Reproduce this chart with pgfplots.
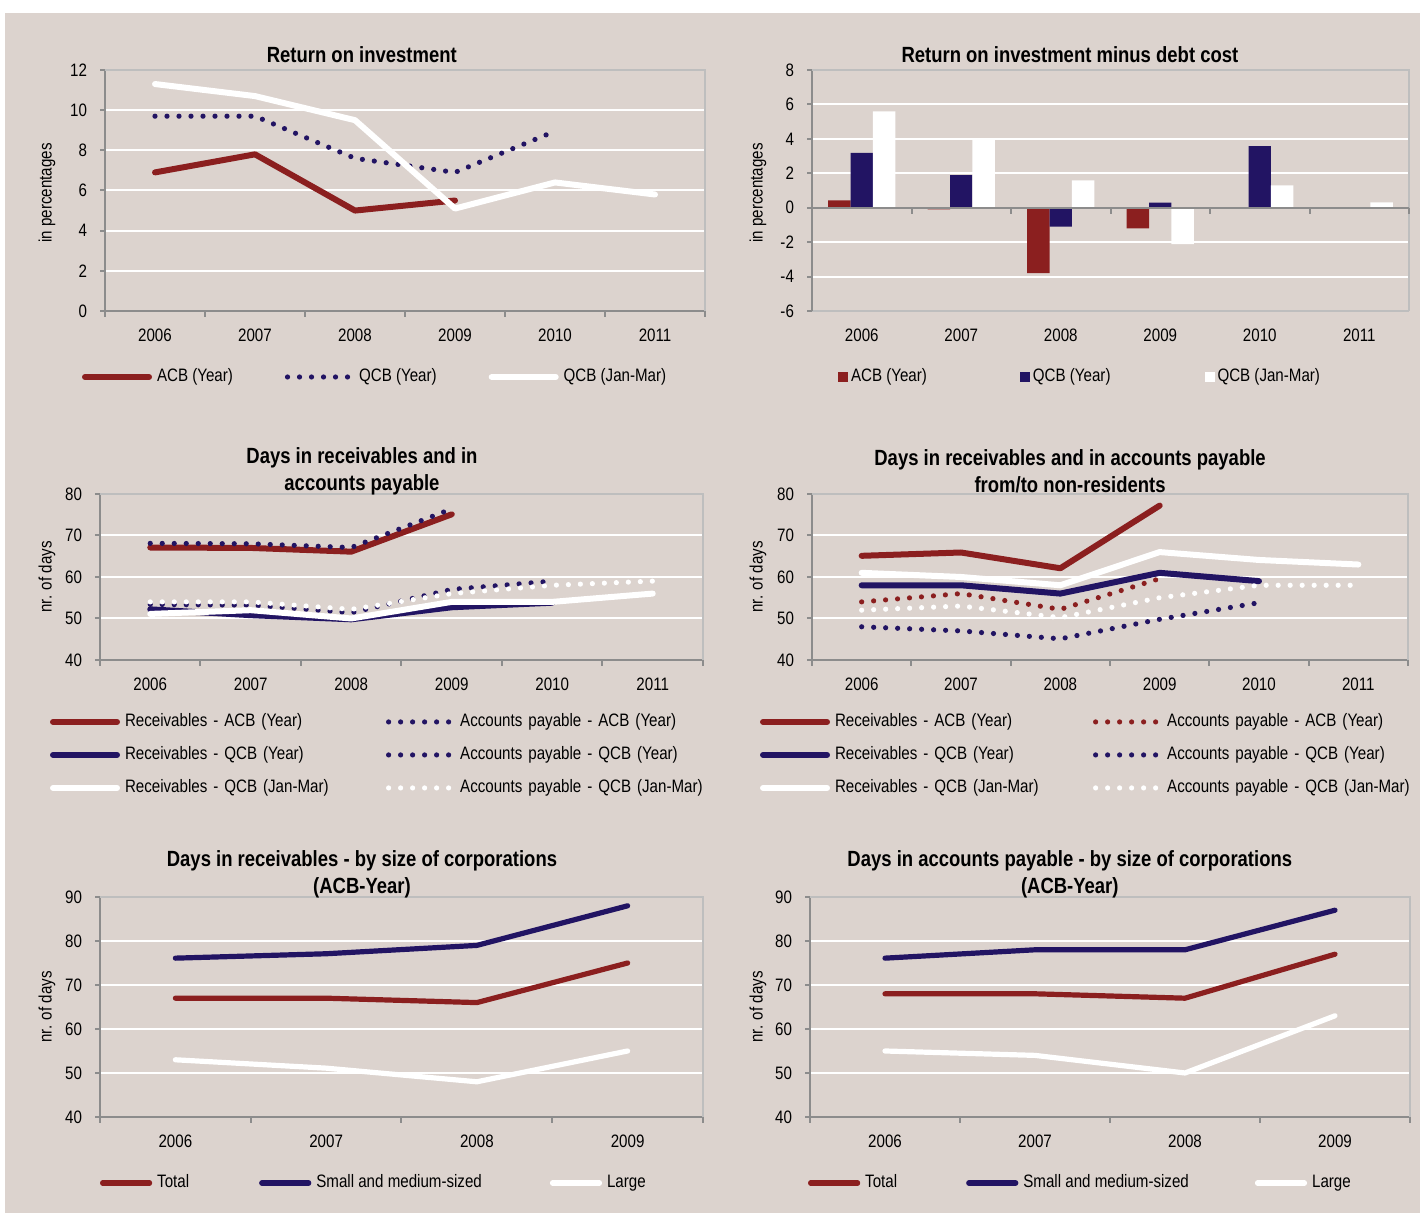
\documentclass[border=0pt]{standalone}
\usepackage{fontspec}
\setmainfont{Liberation Sans}[FakeStretch=0.84]
\usepackage{pgfplots}
\pgfplotsset{compat=1.18}
\definecolor{bg}{HTML}{DCD3CE}
\definecolor{acb}{HTML}{8B1F1F}
\definecolor{qcb}{HTML}{221463}
\definecolor{axgray}{HTML}{8C8C8C}
\definecolor{boxgray}{HTML}{BEBEBE}
\pgfplotsset{
  linelegend/.style={legend image code/.code={\draw[##1] (0pt,0pt) -- (#1,0pt);}},
  sqlegend/.style={legend image code/.code={\fill[##1] (0pt,-2.5pt) rectangle (5pt,2.5pt);}},
  solidl/.style={#1, line width=3pt, line join=round, line cap=round},
  dotl/.style={#1, line width=2.6pt, line cap=round, dash pattern=on 0pt off 6pt},
  panel/.style={
    scale only axis, anchor=south west, clip=false,
    axis lines*=left,
    axis line style={axgray, line width=1pt},
    tick style={axgray, line width=1pt},
    major tick length=2.5pt, minor tick length=3pt,
    tick align=outside,
    ymajorgrids, grid style={white, line width=1pt},
    major x tick style={draw=none},
    font=\fontsize{9}{10.8}\selectfont,
    tick label style={font=\fontsize{9}{10.8}\selectfont},
    /pgf/number format/assume math mode=true,
    yticklabel style={xshift=-3pt},
    xticklabel style={yshift=-3pt},
    title style={font=\fontsize{11}{13.5}\selectfont\bfseries, align=center, anchor=center, yshift=-6pt},
    ylabel style={anchor=center, font=\fontsize{9}{10.8}\selectfont},
    legend cell align=left,
    linelegend=32pt,
    legend style={draw=none, fill=none, inner sep=0pt, outer sep=0pt, anchor=west,
      font=\fontsize{9}{10.8}\selectfont,
      nodes={inner sep=0pt, text height=7pt, text depth=2pt},
      /tikz/every odd column/.append style={column sep=2.5pt}},
  }
}
\begin{document}
\begin{tikzpicture}
\useasboundingbox (0,0) rectangle (710pt,606.5pt);
\fill[white] (0,0) rectangle (710pt,606.5pt);
\fill[bg] (2.5pt,0) rectangle (710pt,600pt);

% Panel 1
\begin{axis}[panel, at={(52.5pt,451pt)}, width=300pt, height=120.5pt,
  xmin=-0.5, xmax=5.5, ymin=0, ymax=12, ytick={0,2,...,12},
  xtick={0,...,5}, xticklabels={2006,2007,2008,2009,2010,2011},
  minor xtick={-0.5,0.5,...,5.5},
  title={Return on investment}, title style={at={(axis description cs:0.428,1.062)}},
  ylabel={in percentages}, ylabel style={at={(axis description cs:-0.0967,0.49)}},
  legend columns=3,
  legend style={at={(axis description cs:-0.0383,-0.2739)},
    /tikz/column 2/.style={column sep=26pt}, /tikz/column 4/.style={column sep=26pt}},
]
\draw[boxgray, line width=1pt] (rel axis cs:0,1) -- (rel axis cs:1,1) -- (rel axis cs:1,0);
\addplot[solidl=acb] coordinates {(0,6.9) (1,7.8) (2,5.0) (3,5.5)};
\addlegendentry{ACB (Year)}
\addplot[dotl=qcb] coordinates {(0,9.7) (1,9.7) (2,7.6) (3,6.9) (4,8.95)};
\addlegendentry{QCB (Year)}
\addplot[solidl=white] coordinates {(0,11.3) (1,10.7) (2,9.5) (3,5.1) (4,6.4) (5,5.8)};
\addlegendentry{QCB (Jan-Mar)}
\end{axis}

% Panel 2
\begin{axis}[panel, at={(406pt,451pt)}, width=298.5pt, height=120.5pt,
  xmin=-0.5, xmax=5.5, ymin=-6, ymax=8, ytick={-6,-4,...,8},
  xtick={0,...,5}, xticklabels={2006,2007,2008,2009,2010,2011},
  x axis line style={boxgray},
  title={Return on investment minus debt cost}, title style={at={(axis description cs:0.432,1.062)}},
  ylabel={in percentages}, ylabel style={at={(axis description cs:-0.0905,0.49)}},
  legend columns=3,
  legend style={at={(axis description cs:0.0436,-0.2739)},
    /tikz/every odd column/.style={column sep=1.5pt},
    /tikz/column 2/.style={column sep=46.5pt}, /tikz/column 4/.style={column sep=47pt}},
]
\draw[boxgray, line width=1pt] (rel axis cs:0,1) -- (rel axis cs:1,1) -- (rel axis cs:1,0);
\addplot[ybar, bar width=0.225, bar shift=-0.225, fill=acb, draw=none, sqlegend]
  coordinates {(0,0.42) (1,-0.1) (2,-3.8) (3,-1.2)};
\addlegendentry{ACB (Year)}
\addplot[ybar, bar width=0.225, bar shift=0, fill=qcb, draw=none, sqlegend]
  coordinates {(0,3.18) (1,1.89) (2,-1.1) (3,0.29) (4,3.58)};
\addlegendentry{QCB (Year)}
\addplot[ybar, bar width=0.225, bar shift=0.225, fill=white, draw=none, sqlegend]
  coordinates {(0,5.59) (1,3.99) (2,1.58) (3,-2.12) (4,1.29) (5,0.31)};
\addlegendentry{QCB (Jan-Mar)}
\draw[axgray, line width=1pt] (axis cs:-0.5,0) -- (axis cs:5.5,0);
\pgfplotsinvokeforeach{-0.5,0.5,1.5,2.5,3.5,4.5,5.5}{\draw[axgray, line width=1pt] (axis cs:#1,0) -- ([yshift=-3pt]axis cs:#1,0);}
\end{axis}

% Panel 3
\begin{axis}[panel, at={(50pt,276.5pt)}, width=301.5pt, height=83pt,
  xmin=-0.5, xmax=5.5, ymin=40, ymax=80, ytick={40,50,...,80},
  xtick={0,...,5}, xticklabels={2006,2007,2008,2009,2010,2011},
  minor xtick={-0.5,0.5,...,5.5},
  title={Days in receivables and in\\accounts payable}, title style={at={(axis description cs:0.4345,1.1355)}},
  ylabel={nr. of days}, ylabel style={at={(axis description cs:-0.0879,0.5)}},
  legend columns=2,
  legend style={at={(axis description cs:-0.0829,-0.572)},
    nodes={text width=126pt, align=left}, row sep=7.5pt,
    /tikz/column 2/.style={column sep=4.5pt}},
]
\draw[boxgray, line width=1pt] (rel axis cs:0,1) -- (rel axis cs:1,1) -- (rel axis cs:1,0);
\addplot[solidl=acb] coordinates {(0,67.1) (1,67) (2,66.1) (3,75.1)};
\addlegendentry{Receivables - ACB (Year)}
\addplot[dotl=qcb] coordinates {(0,68.1) (1,68) (2,67.1) (3,76.4)};
\addlegendentry{Accounts payable - ACB (Year)}
\addplot[solidl=qcb] coordinates {(0,52.2) (1,50.8) (2,49.8) (3,52.7) (4,53.8)};
\addlegendentry{Receivables - QCB (Year)}
\addplot[dotl=qcb] coordinates {(0,53.4) (1,53.2) (2,51.4) (3,57) (4,59)};
\addlegendentry{Accounts payable - QCB (Year)}
\addplot[solidl=white] coordinates {(0,51.1) (1,52) (2,50) (3,54) (4,54) (5,56)};
\addlegendentry{Receivables - QCB (Jan-Mar)}
\addplot[dotl=white] coordinates {(0,54) (1,54) (2,52.2) (3,56) (4,58) (5,59)};
\addlegendentry{Accounts payable - QCB (Jan-Mar)}
\end{axis}

% Panel 4
\begin{axis}[panel, at={(406pt,276.5pt)}, width=298pt, height=83pt,
  xmin=-0.5, xmax=5.5, ymin=40, ymax=80, ytick={40,50,...,80},
  xtick={0,...,5}, xticklabels={2006,2007,2008,2009,2010,2011},
  minor xtick={-0.5,0.5,...,5.5},
  title={Days in receivables and in accounts payable\\from/to non-residents}, title style={at={(axis description cs:0.433,1.1355)}},
  ylabel={nr. of days}, ylabel style={at={(axis description cs:-0.0906,0.5)}},
  legend columns=2,
  legend style={at={(axis description cs:-0.0872,-0.572)},
    nodes={text width=126pt, align=left}, row sep=7.5pt,
    /tikz/column 2/.style={column sep=3pt}},
]
\draw[boxgray, line width=1pt] (rel axis cs:0,1) -- (rel axis cs:1,1) -- (rel axis cs:1,0);
\addplot[solidl=acb] coordinates {(0,65.1) (1,65.9) (2,62.1) (3,77.2)};
\addlegendentry{Receivables - ACB (Year)}
\addplot[dotl=acb] coordinates {(0,54) (1,56) (2,52.2) (3,59.6)};
\addlegendentry{Accounts payable - ACB (Year)}
\addplot[solidl=qcb] coordinates {(0,58) (1,58) (2,56) (3,61) (4,59)};
\addlegendentry{Receivables - QCB (Year)}
\addplot[dotl=qcb] coordinates {(0,48) (1,47) (2,45.1) (3,49.8) (4,53.8)};
\addlegendentry{Accounts payable - QCB (Year)}
\addplot[solidl=white] coordinates {(0,61) (1,60) (2,58) (3,66) (4,64.1) (5,63)};
\addlegendentry{Receivables - QCB (Jan-Mar)}
\addplot[dotl=white] coordinates {(0,52) (1,53) (2,50.2) (3,55) (4,58) (5,58)};
\addlegendentry{Accounts payable - QCB (Jan-Mar)}
\end{axis}

% Panel 5
\begin{axis}[panel, at={(50pt,48pt)}, width=301.5pt, height=110pt,
  xmin=-0.5, xmax=3.5, ymin=40, ymax=90, ytick={40,50,...,90},
  xtick={0,...,3}, xticklabels={2006,2007,2008,2009},
  minor xtick={-0.5,0.5,...,3.5},
  title={Days in receivables - by size of corporations\\(ACB-Year)}, title style={at={(axis description cs:0.4345,1.1045)}},
  ylabel={nr. of days}, ylabel style={at={(axis description cs:-0.0879,0.5)}},
  linelegend=23.5pt,
  legend columns=3,
  legend style={at={(axis description cs:0,-0.3)},
    /tikz/every odd column/.style={column sep=2.5pt},
    /tikz/column 2/.style={column sep=35pt}, /tikz/column 4/.style={column sep=34pt}},
]
\draw[boxgray, line width=1pt] (rel axis cs:0,1) -- (rel axis cs:1,1) -- (rel axis cs:1,0);
\addplot[solidl=acb, line width=2.6pt] coordinates {(0,67) (1,67) (2,66) (3,75)};
\addlegendentry{Total}
\addplot[solidl=qcb, line width=2.6pt] coordinates {(0,76.1) (1,77.1) (2,79) (3,88)};
\addlegendentry{Small and medium-sized}
\addplot[solidl=white, line width=2.6pt] coordinates {(0,53) (1,51.1) (2,48) (3,55)};
\addlegendentry{Large}
\end{axis}

% Panel 6
\begin{axis}[panel, at={(405pt,48pt)}, width=300pt, height=110pt,
  xmin=-0.5, xmax=3.5, ymin=40, ymax=90, ytick={40,50,...,90},
  xtick={0,...,3}, xticklabels={2006,2007,2008,2009},
  minor xtick={-0.5,0.5,...,3.5},
  title={Days in accounts payable - by size of corporations\\(ACB-Year)}, title style={at={(axis description cs:0.433,1.1045)}},
  ylabel={nr. of days}, ylabel style={at={(axis description cs:-0.0867,0.5)}},
  linelegend=23.5pt,
  legend columns=3,
  legend style={at={(axis description cs:-0.0033,-0.3)},
    /tikz/every odd column/.style={column sep=2.5pt},
    /tikz/column 2/.style={column sep=34.5pt}, /tikz/column 4/.style={column sep=33pt}},
]
\draw[boxgray, line width=1pt] (rel axis cs:0,1) -- (rel axis cs:1,1) -- (rel axis cs:1,0);
\addplot[solidl=acb, line width=2.6pt] coordinates {(0,68) (1,68) (2,67) (3,77)};
\addlegendentry{Total}
\addplot[solidl=qcb, line width=2.6pt] coordinates {(0,76.1) (1,78) (2,78) (3,87)};
\addlegendentry{Small and medium-sized}
\addplot[solidl=white, line width=2.6pt] coordinates {(0,55) (1,54) (2,50) (3,63)};
\addlegendentry{Large}
\end{axis}
\end{tikzpicture}
\end{document}
